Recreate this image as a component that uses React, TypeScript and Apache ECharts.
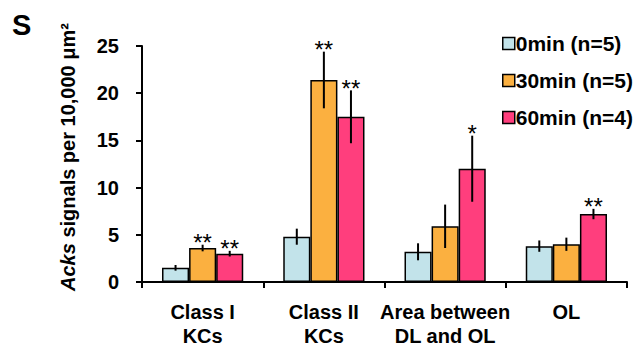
import React, { useEffect, useRef } from "react";
import * as echarts from "echarts";

const categories = ["Class I\nKCs", "Class II\nKCs", "Area between\nDL and OL", "OL"];
const seriesNames = ["0min (n=5)", "30min (n=5)", "60min (n=4)"];
const means0 = [1.5, 4.8, 3.2, 3.8];
const means30 = [3.6, 21.4, 5.9, 4.0];
const means60 = [3.0, 17.5, 12.0, 7.2];
const err0 = [0.3, 0.85, 0.9, 0.6];
const err30 = [0.35, 3.0, 2.3, 0.7];
const err60 = [0.3, 2.8, 3.5, 0.55];
const stars0 = ["", "", "", ""];
const stars30 = ["**", "**", "", ""];
const stars60 = ["**", "**", "*", "**"];
const yTicks = [0, 5, 10, 15, 20, 25];

const colors = ["#c2e3ea", "#fbb040", "#ff3e7d"];

export default function App() {
  const ref = useRef<HTMLDivElement>(null);
  useEffect(() => {
    const chart = echarts.init(ref.current!, undefined, { renderer: "svg" });
    const means = [means0, means30, means60];
    const errs = [err0, err30, err60];
    const stars = [stars0, stars30, stars60];
    const FONT = "Liberation Sans, Arial, sans-serif";

    const barSeries = seriesNames.map((name, k) => ({
      name,
      type: "bar",
      data: means[k],
      barGap: "0%",
      barCategoryGap: "33%",
      itemStyle: { color: colors[k], borderColor: "#000", borderWidth: 1.5 },
      z: 2,
    }));

    const errSeries = seriesNames.map((name, k) => ({
      name: name + "_err",
      type: "custom",
      z: 5,
      clip: false,
      silent: true,
      data: means[k].map((v, i) => [i, v, errs[k][i], stars[k][i]]),
      encode: { x: 0, y: 1 },
      renderItem: (params: any, api: any) => {
        const idx = api.value(0);
        const v = api.value(1);
        const e = api.value(2);
        const s = stars[k][params.dataIndex];
        const bw = api.size([1, 0])[0];
        const barW = (bw * 0.67) / 3;
        const off = (k - 1) * barW;
        const top = api.coord([idx, v + e]);
        const bot = api.coord([idx, v - e]);
        const x = top[0] + off;
        const children: any[] = [
          {
            type: "line",
            shape: { x1: x, y1: top[1], x2: x, y2: bot[1] },
            style: { stroke: "#000", lineWidth: 2 },
          },
        ];
        if (s) {
          children.push({
            type: "text",
            style: {
              text: s,
              x: x,
              y: top[1] - 2,
              align: "center",
              verticalAlign: "middle",
              fontSize: 24,
              fontFamily: FONT,
              fill: "#000",
            },
          });
        }
        return { type: "group", children };
      },
    }));

    chart.setOption({
      animation: false,
      backgroundColor: "#fff",
      textStyle: { fontFamily: FONT },
      grid: { left: 142, right: 11, top: 46, bottom: 78, containLabel: false },
      legend: {
        data: seriesNames,
        orient: "vertical",
        left: 497,
        top: 28,
        itemWidth: 12,
        itemHeight: 12,
        itemGap: 16,
        icon: "rect",
        itemStyle: { borderColor: "#000", borderWidth: 1.5 },
        textStyle: { fontSize: 21, fontWeight: "bold", color: "#000", fontFamily: FONT, padding: [0, 0, 0, -4] },
      },
      xAxis: {
        type: "category",
        data: categories,
        axisLine: { lineStyle: { color: "#000", width: 2 } },
        axisTick: { show: true, length: 6, lineStyle: { color: "#000", width: 2 } },
        axisLabel: {
          interval: 0,
          margin: 18,
          fontSize: 20,
          fontWeight: "bold",
          color: "#000",
          lineHeight: 24,
          fontFamily: FONT,
        },
      },
      yAxis: {
        type: "value",
        min: 0,
        max: 25,
        interval: 5,
        axisLine: { show: true, lineStyle: { color: "#000", width: 2 } },
        axisTick: { show: true, length: 6, lineStyle: { color: "#000", width: 2 } },
        splitLine: { show: false },
        axisLabel: {
          margin: 23,
          fontSize: 20,
          fontWeight: "bold",
          color: "#000",
          fontFamily: FONT,
          formatter: (v: number) => (yTicks.includes(v) ? String(v) : ""),
        },
      },
      graphic: [
        {
          type: "text",
          left: 12,
          top: 10,
          style: { text: "S", fontSize: 29, fontWeight: "bold", fill: "#000", fontFamily: FONT },
        },
        {
          type: "text",
          x: 68,
          y: 157,
          rotation: Math.PI / 2,
          style: {
            text: "{i|Acks} signals per 10,000 μm²",
            align: "center",
            verticalAlign: "middle",
            fontSize: 20,
            fontWeight: "bold",
            fill: "#000",
            fontFamily: FONT,
            rich: {
              i: { fontStyle: "italic", fontWeight: "bold", fontSize: 20, fontFamily: FONT, fill: "#000" },
            },
          },
        },
      ],
      series: [...barSeries, ...errSeries],
    });
    return () => chart.dispose();
  }, []);
  return <div ref={ref} style={{ width: 638, height: 360, position: "absolute", left: 0, top: 0 }} />;
}
